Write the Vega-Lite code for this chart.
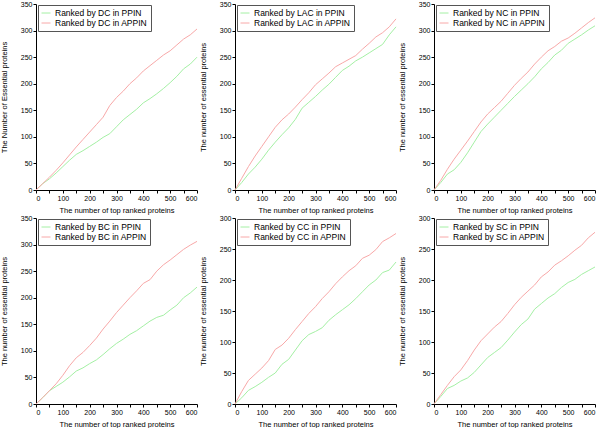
{
  "$schema": "https://vega.github.io/schema/vega-lite/v6.json",
  "padding": 0,
  "bounds": "flush",
  "columns": 3,
  "spacing": {"row": 28, "column": 38},
  "resolve": {"scale": {"color": "independent"}},
  "data": {"values": [
    {"m":"DC","x":0,"PPIN":0,"APPIN":0},{"m":"DC","x":25,"PPIN":12,"APPIN":12},{"m":"DC","x":50,"PPIN":21,"APPIN":24},{"m":"DC","x":75,"PPIN":32,"APPIN":37},{"m":"DC","x":100,"PPIN":44,"APPIN":51},{"m":"DC","x":125,"PPIN":56,"APPIN":66},{"m":"DC","x":150,"PPIN":67,"APPIN":81},{"m":"DC","x":175,"PPIN":74,"APPIN":95},{"m":"DC","x":200,"PPIN":82,"APPIN":109},{"m":"DC","x":225,"PPIN":90,"APPIN":123},{"m":"DC","x":250,"PPIN":99,"APPIN":137},{"m":"DC","x":275,"PPIN":106,"APPIN":159},{"m":"DC","x":300,"PPIN":119,"APPIN":174},{"m":"DC","x":325,"PPIN":132,"APPIN":186},{"m":"DC","x":350,"PPIN":142,"APPIN":200},{"m":"DC","x":375,"PPIN":152,"APPIN":211},{"m":"DC","x":400,"PPIN":164,"APPIN":224},{"m":"DC","x":425,"PPIN":172,"APPIN":234},{"m":"DC","x":450,"PPIN":181,"APPIN":244},{"m":"DC","x":475,"PPIN":191,"APPIN":254},{"m":"DC","x":500,"PPIN":202,"APPIN":262},{"m":"DC","x":525,"PPIN":214,"APPIN":273},{"m":"DC","x":550,"PPIN":228,"APPIN":284},{"m":"DC","x":575,"PPIN":237,"APPIN":292},{"m":"DC","x":600,"PPIN":250,"APPIN":303},
    {"m":"LAC","x":0,"PPIN":0,"APPIN":0},{"m":"LAC","x":25,"PPIN":14,"APPIN":22},{"m":"LAC","x":50,"PPIN":30,"APPIN":44},{"m":"LAC","x":75,"PPIN":43,"APPIN":64},{"m":"LAC","x":100,"PPIN":58,"APPIN":82},{"m":"LAC","x":125,"PPIN":75,"APPIN":100},{"m":"LAC","x":150,"PPIN":90,"APPIN":118},{"m":"LAC","x":175,"PPIN":104,"APPIN":132},{"m":"LAC","x":200,"PPIN":117,"APPIN":143},{"m":"LAC","x":225,"PPIN":133,"APPIN":156},{"m":"LAC","x":250,"PPIN":154,"APPIN":170},{"m":"LAC","x":275,"PPIN":165,"APPIN":183},{"m":"LAC","x":300,"PPIN":176,"APPIN":198},{"m":"LAC","x":325,"PPIN":188,"APPIN":209},{"m":"LAC","x":350,"PPIN":199,"APPIN":220},{"m":"LAC","x":375,"PPIN":212,"APPIN":232},{"m":"LAC","x":400,"PPIN":225,"APPIN":239},{"m":"LAC","x":425,"PPIN":233,"APPIN":246},{"m":"LAC","x":450,"PPIN":243,"APPIN":253},{"m":"LAC","x":475,"PPIN":250,"APPIN":265},{"m":"LAC","x":500,"PPIN":258,"APPIN":276},{"m":"LAC","x":525,"PPIN":266,"APPIN":288},{"m":"LAC","x":550,"PPIN":274,"APPIN":296},{"m":"LAC","x":575,"PPIN":292,"APPIN":307},{"m":"LAC","x":600,"PPIN":307,"APPIN":322},
    {"m":"NC","x":0,"PPIN":0,"APPIN":0},{"m":"NC","x":25,"PPIN":14,"APPIN":18},{"m":"NC","x":50,"PPIN":30,"APPIN":39},{"m":"NC","x":75,"PPIN":38,"APPIN":58},{"m":"NC","x":100,"PPIN":52,"APPIN":75},{"m":"NC","x":125,"PPIN":70,"APPIN":92},{"m":"NC","x":150,"PPIN":90,"APPIN":110},{"m":"NC","x":175,"PPIN":110,"APPIN":128},{"m":"NC","x":200,"PPIN":124,"APPIN":143},{"m":"NC","x":225,"PPIN":137,"APPIN":155},{"m":"NC","x":250,"PPIN":150,"APPIN":167},{"m":"NC","x":275,"PPIN":163,"APPIN":182},{"m":"NC","x":300,"PPIN":176,"APPIN":197},{"m":"NC","x":325,"PPIN":188,"APPIN":210},{"m":"NC","x":350,"PPIN":200,"APPIN":222},{"m":"NC","x":375,"PPIN":213,"APPIN":237},{"m":"NC","x":400,"PPIN":228,"APPIN":250},{"m":"NC","x":425,"PPIN":240,"APPIN":262},{"m":"NC","x":450,"PPIN":254,"APPIN":270},{"m":"NC","x":475,"PPIN":263,"APPIN":280},{"m":"NC","x":500,"PPIN":276,"APPIN":286},{"m":"NC","x":525,"PPIN":284,"APPIN":295},{"m":"NC","x":550,"PPIN":292,"APPIN":305},{"m":"NC","x":575,"PPIN":301,"APPIN":315},{"m":"NC","x":600,"PPIN":309,"APPIN":324},
    {"m":"BC","x":0,"PPIN":0,"APPIN":0},{"m":"BC","x":25,"PPIN":12,"APPIN":12},{"m":"BC","x":50,"PPIN":25,"APPIN":25},{"m":"BC","x":75,"PPIN":33,"APPIN":38},{"m":"BC","x":100,"PPIN":41,"APPIN":54},{"m":"BC","x":125,"PPIN":51,"APPIN":72},{"m":"BC","x":150,"PPIN":62,"APPIN":87},{"m":"BC","x":175,"PPIN":68,"APPIN":97},{"m":"BC","x":200,"PPIN":76,"APPIN":110},{"m":"BC","x":225,"PPIN":83,"APPIN":124},{"m":"BC","x":250,"PPIN":93,"APPIN":141},{"m":"BC","x":275,"PPIN":104,"APPIN":156},{"m":"BC","x":300,"PPIN":114,"APPIN":172},{"m":"BC","x":325,"PPIN":122,"APPIN":186},{"m":"BC","x":350,"PPIN":131,"APPIN":200},{"m":"BC","x":375,"PPIN":138,"APPIN":213},{"m":"BC","x":400,"PPIN":147,"APPIN":227},{"m":"BC","x":425,"PPIN":156,"APPIN":234},{"m":"BC","x":450,"PPIN":163,"APPIN":250},{"m":"BC","x":475,"PPIN":167,"APPIN":262},{"m":"BC","x":500,"PPIN":177,"APPIN":271},{"m":"BC","x":525,"PPIN":186,"APPIN":281},{"m":"BC","x":550,"PPIN":200,"APPIN":291},{"m":"BC","x":575,"PPIN":209,"APPIN":299},{"m":"BC","x":600,"PPIN":220,"APPIN":306},
    {"m":"CC","x":0,"PPIN":0,"APPIN":0},{"m":"CC","x":25,"PPIN":10,"APPIN":20},{"m":"CC","x":50,"PPIN":22,"APPIN":38},{"m":"CC","x":75,"PPIN":28,"APPIN":48},{"m":"CC","x":100,"PPIN":35,"APPIN":58},{"m":"CC","x":125,"PPIN":43,"APPIN":70},{"m":"CC","x":150,"PPIN":50,"APPIN":88},{"m":"CC","x":175,"PPIN":64,"APPIN":95},{"m":"CC","x":200,"PPIN":72,"APPIN":106},{"m":"CC","x":225,"PPIN":87,"APPIN":120},{"m":"CC","x":250,"PPIN":102,"APPIN":133},{"m":"CC","x":275,"PPIN":112,"APPIN":146},{"m":"CC","x":300,"PPIN":117,"APPIN":157},{"m":"CC","x":325,"PPIN":123,"APPIN":170},{"m":"CC","x":350,"PPIN":135,"APPIN":181},{"m":"CC","x":375,"PPIN":144,"APPIN":194},{"m":"CC","x":400,"PPIN":152,"APPIN":205},{"m":"CC","x":425,"PPIN":160,"APPIN":215},{"m":"CC","x":450,"PPIN":170,"APPIN":223},{"m":"CC","x":475,"PPIN":181,"APPIN":235},{"m":"CC","x":500,"PPIN":192,"APPIN":240},{"m":"CC","x":525,"PPIN":200,"APPIN":249},{"m":"CC","x":550,"PPIN":212,"APPIN":262},{"m":"CC","x":575,"PPIN":216,"APPIN":268},{"m":"CC","x":600,"PPIN":229,"APPIN":275},
    {"m":"SC","x":0,"PPIN":0,"APPIN":0},{"m":"SC","x":25,"PPIN":12,"APPIN":15},{"m":"SC","x":50,"PPIN":25,"APPIN":30},{"m":"SC","x":75,"PPIN":30,"APPIN":44},{"m":"SC","x":100,"PPIN":37,"APPIN":55},{"m":"SC","x":125,"PPIN":42,"APPIN":70},{"m":"SC","x":150,"PPIN":51,"APPIN":87},{"m":"SC","x":175,"PPIN":63,"APPIN":102},{"m":"SC","x":200,"PPIN":75,"APPIN":113},{"m":"SC","x":225,"PPIN":83,"APPIN":124},{"m":"SC","x":250,"PPIN":91,"APPIN":133},{"m":"SC","x":275,"PPIN":103,"APPIN":146},{"m":"SC","x":300,"PPIN":116,"APPIN":160},{"m":"SC","x":325,"PPIN":128,"APPIN":172},{"m":"SC","x":350,"PPIN":137,"APPIN":182},{"m":"SC","x":375,"PPIN":153,"APPIN":192},{"m":"SC","x":400,"PPIN":162,"APPIN":205},{"m":"SC","x":425,"PPIN":171,"APPIN":213},{"m":"SC","x":450,"PPIN":178,"APPIN":224},{"m":"SC","x":475,"PPIN":188,"APPIN":231},{"m":"SC","x":500,"PPIN":196,"APPIN":239},{"m":"SC","x":525,"PPIN":201,"APPIN":248},{"m":"SC","x":550,"PPIN":209,"APPIN":256},{"m":"SC","x":575,"PPIN":215,"APPIN":268},{"m":"SC","x":600,"PPIN":221,"APPIN":277}
  ]},
  "concat": [
    {"transform":[{"filter":"datum.m=='DC'"},{"fold":["PPIN","APPIN"],"as":["net","y"]}],
     "mark":{"type":"line","strokeWidth":1},
     "encoding":{
       "x":{"field":"x","type":"quantitative","scale":{"domain":[0,600],"nice":false},"axis":{"values":[0,50,100,150,200,250,300,350,400,450,500,550,600],"labelExpr":"datum.value % 100 == 0 ? datum.label : ''","title":"The number of top ranked proteins"}},
       "y":{"field":"y","type":"quantitative","scale":{"domain":[0,350],"nice":false},"axis":{"values":[0,50,100,150,200,250,300,350],"title":"The Number of Essential proteins"}},
       "color":{"field":"net","type":"nominal","scale":{"domain":["PPIN","APPIN"],"range":["#a4f0a4","#f8a8a8"]},"legend":{"labelExpr":"'Ranked by DC in ' + datum.label"}}}},
    {"transform":[{"filter":"datum.m=='LAC'"},{"fold":["PPIN","APPIN"],"as":["net","y"]}],
     "mark":{"type":"line","strokeWidth":1},
     "encoding":{
       "x":{"field":"x","type":"quantitative","scale":{"domain":[0,600],"nice":false},"axis":{"values":[0,50,100,150,200,250,300,350,400,450,500,550,600],"labelExpr":"datum.value % 100 == 0 ? datum.label : ''","title":"The number of top ranked proteins"}},
       "y":{"field":"y","type":"quantitative","scale":{"domain":[0,350],"nice":false},"axis":{"values":[0,50,100,150,200,250,300,350],"title":"The number of essential proteins"}},
       "color":{"field":"net","type":"nominal","scale":{"domain":["PPIN","APPIN"],"range":["#a4f0a4","#f8a8a8"]},"legend":{"labelExpr":"'Ranked by LAC in ' + datum.label"}}}},
    {"transform":[{"filter":"datum.m=='NC'"},{"fold":["PPIN","APPIN"],"as":["net","y"]}],
     "mark":{"type":"line","strokeWidth":1},
     "encoding":{
       "x":{"field":"x","type":"quantitative","scale":{"domain":[0,600],"nice":false},"axis":{"values":[0,50,100,150,200,250,300,350,400,450,500,550,600],"labelExpr":"datum.value % 100 == 0 ? datum.label : ''","title":"The number of top ranked proteins"}},
       "y":{"field":"y","type":"quantitative","scale":{"domain":[0,350],"nice":false},"axis":{"values":[0,50,100,150,200,250,300,350],"title":"The number of essential proteins"}},
       "color":{"field":"net","type":"nominal","scale":{"domain":["PPIN","APPIN"],"range":["#a4f0a4","#f8a8a8"]},"legend":{"labelExpr":"'Ranked by NC in ' + datum.label"}}}},
    {"transform":[{"filter":"datum.m=='BC'"},{"fold":["PPIN","APPIN"],"as":["net","y"]}],
     "mark":{"type":"line","strokeWidth":1},
     "encoding":{
       "x":{"field":"x","type":"quantitative","scale":{"domain":[0,600],"nice":false},"axis":{"values":[0,50,100,150,200,250,300,350,400,450,500,550,600],"labelExpr":"datum.value % 100 == 0 ? datum.label : ''","title":"The number of top ranked proteins"}},
       "y":{"field":"y","type":"quantitative","scale":{"domain":[0,350],"nice":false},"axis":{"values":[0,50,100,150,200,250,300,350],"title":"The number of essential proteins"}},
       "color":{"field":"net","type":"nominal","scale":{"domain":["PPIN","APPIN"],"range":["#a4f0a4","#f8a8a8"]},"legend":{"labelExpr":"'Ranked by BC in ' + datum.label"}}}},
    {"transform":[{"filter":"datum.m=='CC'"},{"fold":["PPIN","APPIN"],"as":["net","y"]}],
     "mark":{"type":"line","strokeWidth":1},
     "encoding":{
       "x":{"field":"x","type":"quantitative","scale":{"domain":[0,600],"nice":false},"axis":{"values":[0,50,100,150,200,250,300,350,400,450,500,550,600],"labelExpr":"datum.value % 100 == 0 ? datum.label : ''","title":"The number of top ranked proteins"}},
       "y":{"field":"y","type":"quantitative","scale":{"domain":[0,300],"nice":false},"axis":{"values":[0,50,100,150,200,250,300],"title":"The number of essential proteins"}},
       "color":{"field":"net","type":"nominal","scale":{"domain":["PPIN","APPIN"],"range":["#a4f0a4","#f8a8a8"]},"legend":{"labelExpr":"'Ranked by CC in ' + datum.label"}}}},
    {"transform":[{"filter":"datum.m=='SC'"},{"fold":["PPIN","APPIN"],"as":["net","y"]}],
     "mark":{"type":"line","strokeWidth":1},
     "encoding":{
       "x":{"field":"x","type":"quantitative","scale":{"domain":[0,600],"nice":false},"axis":{"values":[0,50,100,150,200,250,300,350,400,450,500,550,600],"labelExpr":"datum.value % 100 == 0 ? datum.label : ''","title":"The number of top ranked proteins"}},
       "y":{"field":"y","type":"quantitative","scale":{"domain":[0,300],"nice":false},"axis":{"values":[0,50,100,150,200,250,300],"title":"The number of essential proteins"}},
       "color":{"field":"net","type":"nominal","scale":{"domain":["PPIN","APPIN"],"range":["#a4f0a4","#f8a8a8"]},"legend":{"labelExpr":"'Ranked by SC in ' + datum.label"}}}}
  ],
  "config": {
    "font": "Liberation Sans",
    "view": {"stroke": null, "continuousWidth": 161, "continuousHeight": 186},
    "axis": {"grid": false, "domainColor": "#000", "tickColor": "#000", "labelColor": "#000", "titleColor": "#000", "labelFontSize": 7, "titleFontSize": 7.5, "titleFontWeight": "normal", "tickSize": 3, "labelPadding": 1},
    "axisX": {"titlePadding": 5},
    "axisY": {"titlePadding": 12},
    "legend": {"orient": "none", "legendX": 2, "legendY": 1, "title": null, "strokeColor": "#555", "fillColor": "#fff", "padding": 3, "symbolType": "stroke", "symbolSize": 81, "symbolStrokeWidth": 1, "labelFontSize": 8.5, "labelColor": "#000", "rowPadding": -1, "labelOffset": 4}
  }
}
